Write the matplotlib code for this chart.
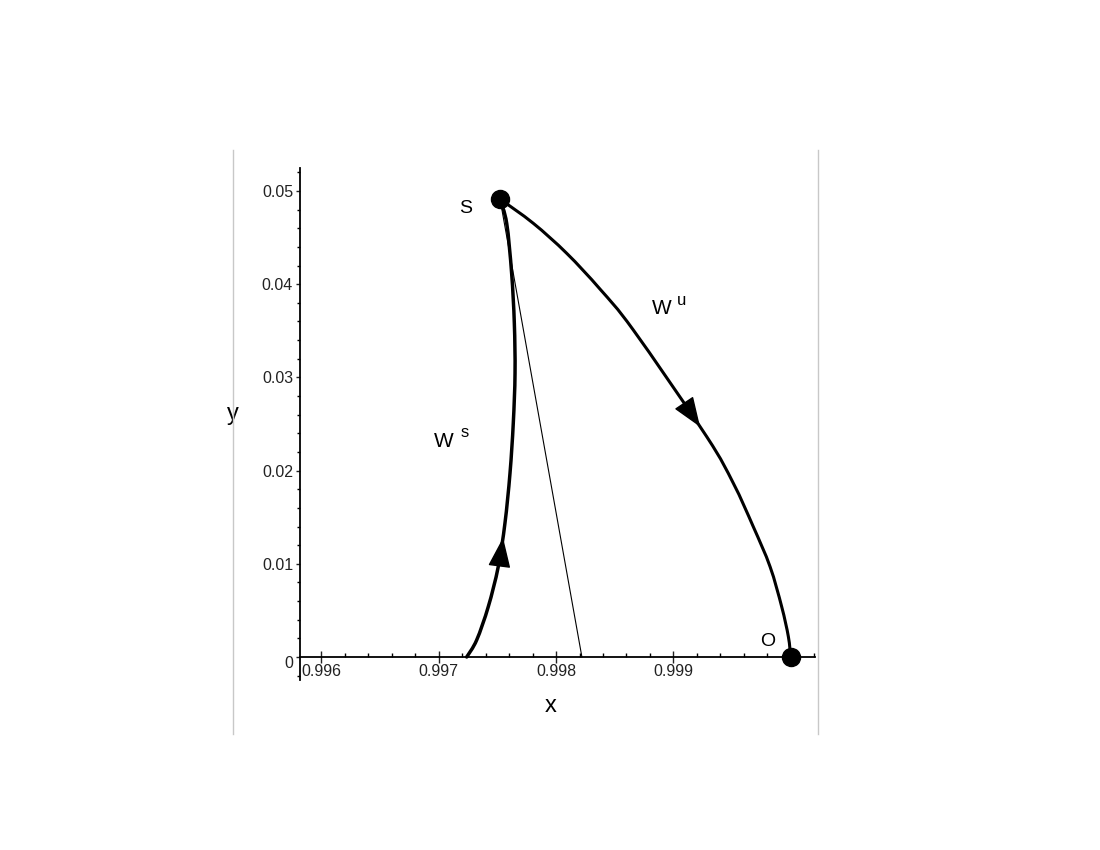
import numpy as np
import matplotlib
matplotlib.use("Agg")
import matplotlib.pyplot as plt
from matplotlib.lines import Line2D
from matplotlib.path import Path
from matplotlib.patches import PathPatch
from matplotlib.ticker import FixedLocator, FixedFormatter, MultipleLocator

plt.rcParams['font.family'] = ['Liberation Sans', 'DejaVu Sans']

# ---- data ----
# stable manifold W^s (from x-axis up to saddle S)
ws_x = [0.997238, 0.997323, 0.997422, 0.997507, 0.997564, 0.997607, 0.997635,
        0.997650, 0.997644, 0.997621, 0.997579, 0.997522]
ws_y = [0.0, 0.00182, 0.00540, 0.00969, 0.01435, 0.01971, 0.02508,
        0.03044, 0.03580, 0.04117, 0.04653, 0.04914]

# unstable manifold W^u (from S down to O)
wu_x = [0.997522, 0.997806, 0.998090, 0.998374, 0.998658,
        0.999284, 0.999511, 0.999681, 0.999824, 0.999923, 0.999980, 1.0]
wu_y = [0.04914, 0.04653, 0.04332, 0.03948, 0.03509,
        0.02364, 0.01864, 0.01398, 0.00969, 0.00540, 0.00218, 0.0]

# thin straight line from S to the x-axis
thin_x = [0.997522, 0.998220]
thin_y = [0.04914, 0.0]

# equilibrium points
pt_names = ['S', 'O']
pt_x = [0.997522, 1.0]
pt_y = [0.04914, 0.0]

# arrow positions (y value of arrow tip on the curve)
ws_arrow_y = 0.0128
wu_arrow_y = 0.0247

xticks_major = [0.996, 0.997, 0.998, 0.999, 1.0]
xtick_labels = ['0.996', '0.997', '0.998', '0.999', '']
yticks_major = [0.0, 0.01, 0.02, 0.03, 0.04, 0.05]
ytick_labels = ['', '0.01', '0.02', '0.03', '0.04', '0.05']

# ---- figure ----
fig = plt.figure(figsize=(11, 8.5), dpi=100)
ax = fig.add_axes([300 / 1100, 1 - 680 / 850, 515 / 1100, 512 / 850])
ax.set_xlim(0.995817, 1.000207)
ax.set_ylim(-0.002468, 0.052468)
ax.patch.set_alpha(0)

for s in ['top', 'right']:
    ax.spines[s].set_visible(False)
ax.spines['bottom'].set_position(('data', 0))
ax.spines['bottom'].set_linewidth(1.3)
ax.spines['left'].set_linewidth(1.3)

ax.xaxis.set_major_locator(FixedLocator(xticks_major))
ax.xaxis.set_major_formatter(FixedFormatter(xtick_labels))
ax.xaxis.set_minor_locator(MultipleLocator(0.0002))
ax.yaxis.set_major_locator(FixedLocator(yticks_major))
ax.yaxis.set_major_formatter(FixedFormatter(ytick_labels))
ax.yaxis.set_minor_locator(MultipleLocator(0.002))

ax.tick_params(axis='x', which='major', direction='inout', length=8, width=1,
               labelsize=11.5, pad=1, colors='#222222')
ax.tick_params(axis='x', which='minor', direction='in', length=3, width=1)
ax.tick_params(axis='y', which='major', direction='out', length=3, width=1,
               labelsize=11.5, pad=2, colors='#222222')
ax.tick_params(axis='y', which='minor', direction='out', length=2, width=1)

# "0" label at origin of y-axis, slightly lowered
ax.annotate('0', xy=(0, 0), xycoords=('axes fraction', 'data'),
            xytext=(-5, -5), textcoords='offset points',
            ha='right', va='center', fontsize=11.5, color='#222222',
            annotation_clip=False)


def smooth_curve(xs, ys, lw, z=3):
    """Draw a smooth (Catmull-Rom as cubic Bezier) curve through the points."""
    P = np.column_stack([xs, ys]).astype(float)
    n = len(P)
    verts = [P[0]]
    codes = [Path.MOVETO]
    for i in range(n - 1):
        p0 = P[i - 1] if i > 0 else P[i]
        p1 = P[i]
        p2 = P[i + 1]
        p3 = P[i + 2] if i + 2 < n else P[i + 1]
        c1 = p1 + (p2 - p0) / 6.0
        c2 = p2 - (p3 - p1) / 6.0
        verts += [c1, c2, p2]
        codes += [Path.CURVE4] * 3
    path = Path(verts, codes)
    patch = PathPatch(path, facecolor='none', edgecolor='black',
                      lw=lw, capstyle='round', joinstyle='round', zorder=z)
    ax.add_patch(patch)
    return path


def add_arrow(path, y_at):
    """Put a filled arrow head on the drawn curve where it crosses y_at."""
    pts = path.to_polygons(closed_only=False)[0]
    disp = ax.transData.transform(pts)
    ys = pts[:, 1]
    for i in range(len(ys) - 1):
        lo, hi = sorted((ys[i], ys[i + 1]))
        if lo <= y_at <= hi and ys[i] != ys[i + 1]:
            t = (y_at - ys[i]) / (ys[i + 1] - ys[i])
            ptip = disp[i] + t * (disp[i + 1] - disp[i])
            d = disp[i + 1] - disp[i]
            d = d / np.hypot(*d)
            tip = ax.transData.inverted().transform(ptip)
            tail = ax.transData.inverted().transform(ptip - d * 2)
            ax.annotate('', xy=tip, xytext=tail,
                        arrowprops=dict(arrowstyle='-|>,head_length=0.95,head_width=0.36',
                                        mutation_scale=20, color='black',
                                        shrinkA=0, shrinkB=0, lw=1),
                        zorder=6)
            return


# curves
ws_path = smooth_curve(ws_x, ws_y, 2.5)
wu_path = smooth_curve(wu_x, wu_y, 2.2)
ax.plot(thin_x, thin_y, color='black', lw=0.8, zorder=2)

# points
ax.plot(pt_x, pt_y, 'o', color='black', markersize=13, zorder=5, clip_on=False)

add_arrow(ws_path, ws_arrow_y)
add_arrow(wu_path, wu_arrow_y)

# labels
ax.text(0.997232, 0.0481, 'S', fontsize=14, ha='center', va='center')
ax.text(0.999806, 0.00161, 'O', fontsize=14, ha='center', va='center')
ax.text(0.998900, 0.03739, 'W', fontsize=15, ha='center', va='center')
ax.text(0.999067, 0.03825, 'u', fontsize=12, ha='center', va='center')
ax.text(0.997044, 0.02307, 'W', fontsize=15, ha='center', va='center')
ax.text(0.997223, 0.02414, 's', fontsize=12, ha='center', va='center')
ax.text(0.997952, -0.00526, 'x', fontsize=17, ha='center', va='center', clip_on=False)
ax.text(0.995245, 0.02607, 'y', fontsize=17, ha='center', va='center', clip_on=False)

# grey frame lines of the plot window
for px in (233, 818):
    fig.add_artist(Line2D([px / 1100, px / 1100], [1 - 150 / 850, 1 - 734 / 850],
                          transform=fig.transFigure, color='#c8c8c8', lw=1))

fig.savefig('out.png', dpi=100, facecolor='white')
